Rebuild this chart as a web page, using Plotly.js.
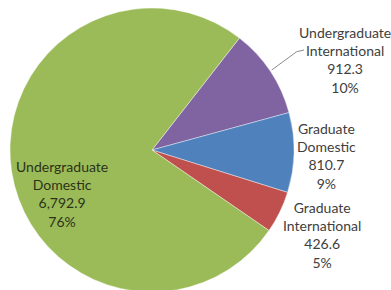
<!DOCTYPE html>
<html>
<head>
<meta charset="utf-8">
<script src="https://cdn.plot.ly/plotly-3.0.1.min.js"></script>
<style>html,body{margin:0;padding:0;background:#fff;overflow:hidden;}#wrap{width:391px;height:290px;overflow:hidden;}#chart{width:391px;height:294px;}</style>
</head>
<body>
<div id="wrap"><div id="chart"></div></div>
<script>
// Data (clockwise order starting at the purple slice)
const labels = ["Undergraduate International", "Graduate Domestic", "Graduate International", "Undergraduate Domestic"];
const labelLines = [["Undergraduate", "International"], ["Graduate", "Domestic"], ["Graduate", "International"], ["Undergraduate", "Domestic"]];
const values = [912.3, 810.7, 426.6, 6792.9];
const colors = ["#8064A2", "#4F81BD", "#C0504D", "#9BBB59"];

const total = values.reduce((a, b) => a + b, 0);
const fmt = v => v.toLocaleString("en-US", {minimumFractionDigits: 1, maximumFractionDigits: 1});
const texts = values.map((v, i) => labelLines[i].join("<br>") + "<br>" + fmt(v) + "<br>" + Math.round(v / total * 100) + "%");

// label placement (pixel positions converted to paper coords)
const W = 391, H = 294;
const labelPos = [[345, 60], [326, 155.5], [322, 235], [62, 193.5]];
const textColors = ["#404040", "#404040", "#404040", "#2b3318"];

const annotations = texts.map((t, i) => ({
  text: t, xref: "paper", yref: "paper",
  x: labelPos[i][0] / W, y: 1 - labelPos[i][1] / H,
  xanchor: "center", yanchor: "middle", align: "center", showarrow: false,
  font: {family: "Lato, 'Open Sans', sans-serif", size: 14, color: textColors[i]}
}));

const trace = {
  type: "pie", labels: labels, values: values, sort: false,
  direction: "clockwise", rotation: 38,
  marker: {colors: colors, line: {color: "rgba(255,255,255,0.5)", width: 0.8}},
  textinfo: "none", hoverinfo: "label+value+percent",
  domain: {x: [10 / W, 294 / W], y: [2 / H, 286 / H]}
};

const p = (x, y) => (x / W) + "," + (1 - y / H);
const layout = {
  width: W, height: H, margin: {l: 0, r: 0, t: 0, b: 0},
  paper_bgcolor: "#fff", showlegend: false,
  annotations: annotations,
  shapes: [{
    type: "path", xref: "paper", yref: "paper",
    path: "M" + p(271.7, 70) + " L" + p(296.7, 51.7) + " L" + p(304, 50),
    line: {color: "#8c8c8c", width: 1}
  }]
};

Plotly.newPlot("chart", [trace], layout, {displayModeBar: false, staticPlot: true});
</script>
</body>
</html>
